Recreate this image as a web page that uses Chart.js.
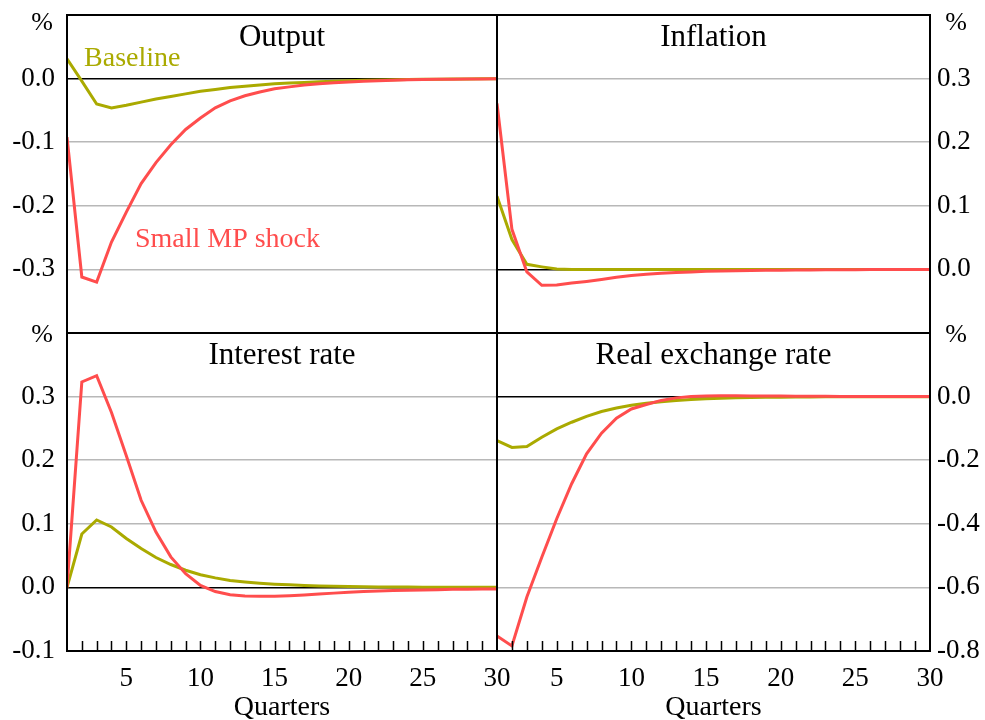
<!DOCTYPE html>
<html>
<head>
<meta charset="utf-8">
<script src="https://cdn.jsdelivr.net/npm/chart.js@4"></script>
<style>
  html, body { margin: 0; padding: 0; background: #fff; overflow: hidden; }
  .wrap { position: relative; width: 985px; height: 720px; overflow: hidden; }
  canvas { position: absolute; left: 0; top: 0; }
</style>
</head>
<body>
<div class="wrap">
  <canvas id="output-chart" width="985" height="724"></canvas>
  <canvas id="inflation-chart" width="985" height="724"></canvas>
  <canvas id="interest-chart" width="985" height="724"></canvas>
  <canvas id="rer-chart" width="985" height="724"></canvas>
</div>
<script>
const quarters = [1, 2, 3, 4, 5, 6, 7, 8, 9, 10, 11, 12, 13, 14, 15, 16, 17, 18, 19, 20, 21, 22, 23, 24, 25, 26, 27, 28, 29, 30];

const outputBaseline = [0.031, -0.004, -0.040, -0.046, -0.042, -0.037, -0.032, -0.028, -0.024, -0.020, -0.017, -0.014, -0.012, -0.010, -0.008, -0.007, -0.006, -0.005, -0.004, -0.0033, -0.0027, -0.0022, -0.0018, -0.0014, -0.0011, -0.0009, -0.0007, -0.0005, -0.0004, -0.0003];
const outputShock = [-0.092, -0.312, -0.320, -0.257, -0.210, -0.165, -0.132, -0.104, -0.080, -0.062, -0.046, -0.035, -0.027, -0.021, -0.016, -0.013, -0.010, -0.008, -0.0065, -0.0052, -0.0042, -0.0033, -0.0026, -0.002, -0.0016, -0.0012, -0.0009, -0.0007, -0.0005, -0.0004];

const inflationBaseline = [0.115, 0.047, 0.008, 0.004, 0.0005, 0, 0, 0, 0, 0, 0, 0, 0, 0, 0, 0, 0, 0, 0, 0, 0, 0, 0, 0, 0, 0, 0, 0, 0, 0];
const inflationShock = [0.261, 0.063, -0.004, -0.025, -0.0245, -0.0215, -0.019, -0.016, -0.0125, -0.0095, -0.0075, -0.006, -0.005, -0.004, -0.003, -0.0025, -0.002, -0.0017, -0.0014, -0.0012, -0.001, -0.0008, -0.0006, -0.0005, -0.0004, -0.0003, -0.0002, -0.0001, 0, 0];

const interestBaseline = [0, 0.084, 0.106, 0.095, 0.077, 0.061, 0.047, 0.036, 0.027, 0.020, 0.015, 0.011, 0.0085, 0.0065, 0.005, 0.004, 0.003, 0.0023, 0.0018, 0.0014, 0.001, 0.0008, 0.0006, 0.0005, 0.0004, 0.0003, 0.0002, 0.0002, 0.0001, 0.0001];
const interestShock = [0, 0.323, 0.333, 0.275, 0.207, 0.137, 0.087, 0.048, 0.0215, 0.003, -0.0065, -0.0115, -0.0135, -0.014, -0.014, -0.013, -0.012, -0.0105, -0.009, -0.0075, -0.0065, -0.0055, -0.005, -0.0045, -0.004, -0.0035, -0.003, -0.003, -0.0025, -0.0025];

const rerBaseline = [-0.138, -0.160, -0.157, -0.128, -0.1015, -0.0806, -0.062, -0.047, -0.036, -0.027, -0.021, -0.016, -0.012, -0.009, -0.007, -0.005, -0.004, -0.003, -0.0023, -0.0017, -0.0013, -0.001, -0.0008, -0.0006, -0.0004, -0.0003, -0.0002, -0.0002, -0.0001, -0.0001];
const rerShock = [-0.753, -0.784, -0.630, -0.505, -0.384, -0.274, -0.180, -0.115, -0.068, -0.039, -0.025, -0.012, -0.004, 0, 0.002, 0.0025, 0.0025, 0.0022, 0.0019, 0.0016, 0.0013, 0.001, 0.0008, 0.0006, 0.0005, 0.0004, 0.0003, 0.0002, 0.0001, 0.0001];

const OLIVE = '#aaaa00';
const RED = '#ff4d4d';
const FONT = "'Liberation Serif', 'Times New Roman', serif";

// frame, panel title, % unit, minor x ticks and series labels
const panelPlugin = {
  id: 'panel',
  afterDraw(chart, args, opts) {
    const { ctx, chartArea: a } = chart;
    ctx.save();

    if (opts.minorTicks) {
      const xs = chart.scales.x;
      ctx.strokeStyle = '#000';
      ctx.lineWidth = 1.5;
      ctx.beginPath();
      quarters.forEach(q => {
        if (q === xs.min || q === xs.max) return;
        const px = Math.round(xs.getPixelForValue(q)) + 0.5;
        ctx.moveTo(px, a.bottom);
        ctx.lineTo(px, a.bottom - 10);
      });
      ctx.stroke();
    }

    ctx.strokeStyle = '#000';
    ctx.lineWidth = 2;
    ctx.strokeRect(a.left, a.top, a.right - a.left, a.bottom - a.top);

    ctx.fillStyle = '#000';
    ctx.font = `31px ${FONT}`;
    ctx.textAlign = 'center';
    ctx.textBaseline = 'alphabetic';
    ctx.fillText(opts.title, (a.left + a.right) / 2, a.top + 31);

    ctx.font = `26px ${FONT}`;
    ctx.textBaseline = 'middle';
    const ux = opts.side === 'left' ? a.left - 25 : a.right + 26;
    ctx.fillText('%', ux, a.top + opts.unitDy);

    (opts.labels || []).forEach(l => {
      ctx.fillStyle = l.color;
      ctx.font = `28px ${FONT}`;
      ctx.textAlign = 'left';
      ctx.textBaseline = 'alphabetic';
      ctx.fillText(l.text, chart.scales.x.getPixelForValue(l.x), chart.scales.y.getPixelForValue(l.y));
    });

    ctx.restore();
  }
};

const toPoints = (values) => values.map((v, i) => ({ x: quarters[i], y: v }));

const makePanel = (id, cfg) => {
  const left = cfg.side === 'left';
  return new Chart(document.getElementById(id), {
    type: 'line',
    data: {
      datasets: [
        {
          label: 'Small MP shock',
          data: toPoints(cfg.shock),
          borderColor: RED,
          borderWidth: 3,
          pointRadius: 0,
          tension: 0,
          order: 0
        },
        {
          label: 'Baseline',
          data: toPoints(cfg.baseline),
          borderColor: OLIVE,
          borderWidth: 3,
          pointRadius: 0,
          tension: 0,
          order: 1
        }
      ]
    },
    options: {
      responsive: false,
      animation: false,
      layout: {
        padding: {
          left: left ? 0 : 497,
          right: left ? 488 : 0,
          top: cfg.bottom ? 333 : 15,
          bottom: cfg.bottom ? 0 : 391
        }
      },
      scales: {
        x: {
          type: 'linear',
          min: 1,
          max: 30,
          display: cfg.bottom,
          afterFit: s => { s.height = cfg.bottom ? 73 : 0; s.paddingLeft = 0; s.paddingRight = 0; },
          grid: { display: false, drawTicks: false },
          border: { display: false },
          ticks: {
            stepSize: 1,
            autoSkip: false,
            maxRotation: 0,
            padding: 12,
            color: '#000',
            font: { family: FONT, size: 27 },
            callback: v => (v % 5 === 0 ? String(v) : '')
          },
          title: {
            display: true,
            text: 'Quarters',
            color: '#000',
            font: { family: FONT, size: 28 },
            padding: 0
          }
        },
        y: {
          position: cfg.side,
          min: cfg.min,
          max: cfg.max,
          afterFit: s => { s.width = left ? 67 : 55; s.paddingTop = 0; s.paddingBottom = 0; },
          grid: {
            drawTicks: false,
            lineWidth: 1.5,
            color: c => (Math.abs(c.tick.value) < 1e-9 ? '#000' : '#b8b8b8')
          },
          border: { display: false },
          ticks: {
            stepSize: cfg.step,
            padding: left ? 12 : 7,
            color: '#000',
            font: { family: FONT, size: 27 },
            callback: v => {
              if (Math.abs(v - cfg.max) < 1e-9) return null;
              if (!cfg.bottom && Math.abs(v - cfg.min) < 1e-9) return null;
              return (Math.round(v * 10) / 10).toFixed(1);
            }
          }
        }
      },
      plugins: {
        legend: { display: false },
        tooltip: { enabled: false },
        panel: {
          title: cfg.title,
          side: cfg.side,
          unitDy: cfg.bottom ? 2 : 8,
          minorTicks: cfg.bottom,
          labels: cfg.labels
        }
      }
    },
    plugins: [panelPlugin]
  });
};

makePanel('output-chart', {
  title: 'Output', side: 'left', bottom: false, min: -0.4, max: 0.1, step: 0.1,
  baseline: outputBaseline, shock: outputShock,
  labels: [
    { text: 'Baseline', color: OLIVE, x: 2.15, y: 0.0204 },
    { text: 'Small MP shock', color: RED, x: 5.58, y: -0.265 }
  ]
});
makePanel('inflation-chart', {
  title: 'Inflation', side: 'right', bottom: false, min: -0.1, max: 0.4, step: 0.1,
  baseline: inflationBaseline, shock: inflationShock
});
makePanel('interest-chart', {
  title: 'Interest rate', side: 'left', bottom: true, min: -0.1, max: 0.4, step: 0.1,
  baseline: interestBaseline, shock: interestShock
});
makePanel('rer-chart', {
  title: 'Real exchange rate', side: 'right', bottom: true, min: -0.8, max: 0.2, step: 0.2,
  baseline: rerBaseline, shock: rerShock
});
</script>
</body>
</html>
